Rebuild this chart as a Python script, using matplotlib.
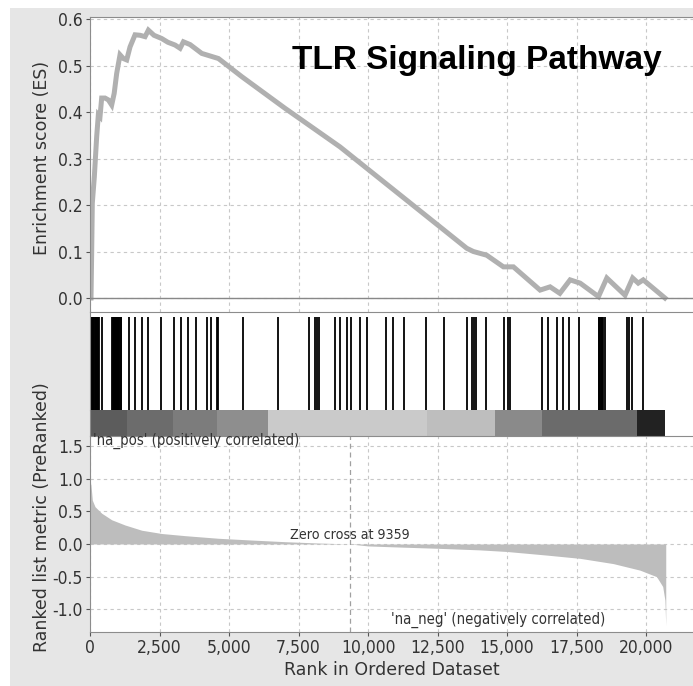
import matplotlib
matplotlib.use('Agg')
import matplotlib.pyplot as plt
from matplotlib.patches import Rectangle
from matplotlib import font_manager
from matplotlib.font_manager import FontProperties

# enrichment score curve
es_rank = [0, 36, 60, 83, 155, 240, 300, 360, 420, 540, 660, 780, 870, 960, 1080, 1200, 1320, 1440,
           1620, 1800, 1980, 2100, 2300, 2580, 2800, 3060, 3240, 3360, 3600, 4020, 4620, 5460, 7014,
           8993, 12590, 13550, 13790, 14270, 14870, 15230, 16190, 16550, 16900, 17270, 17630, 18290,
           18590, 19245, 19520, 19720, 19900, 20680]
es_val = [0.0, 0.0, 0.097, 0.204, 0.26, 0.347, 0.394, 0.39, 0.43, 0.43, 0.426, 0.415, 0.44, 0.483,
          0.523, 0.515, 0.512, 0.54, 0.566, 0.565, 0.562, 0.576, 0.565, 0.558, 0.55, 0.544, 0.537,
          0.551, 0.545, 0.526, 0.515, 0.476, 0.408, 0.325, 0.153, 0.107, 0.10, 0.092, 0.067, 0.067,
          0.017, 0.024, 0.01, 0.039, 0.032, 0.003, 0.043, 0.006, 0.043, 0.032, 0.039, 0.0]

# gene set hits
hits = [0, 25, 50, 75, 100, 125, 150, 175, 200, 225, 250, 275, 300, 320, 443,
        800, 825, 850, 875, 900, 925, 950, 975, 1000, 1025, 1050, 1075, 1100, 1115,
        1415, 1620, 1858, 2100, 2554, 3010, 3273, 3537, 3813, 4197, 4353, 4556, 4604, 5492,
        6750, 7890, 8094, 8153, 8225, 8813, 8993, 9233, 9376, 9712, 9976, 10647, 10887, 11306,
        12086, 12746, 13550, 13752, 13813, 13885, 14233, 14904, 15048, 15097, 16247, 16475, 16787,
        17026, 17230, 17601, 18300, 18325, 18350, 18375, 18400, 18425, 18442, 18537,
        19327, 19399, 19485, 19903]

# ranked list colour bar
bar_edges = [0, 1320, 3000, 4560, 6420, 12110, 14570, 16250, 19670, 20700]
bar_grays = ['#5c5c5c', '#6c6c6c', '#7c7c7c', '#8e8e8e', '#cacaca', '#bebebe', '#8a8a8a',
             '#6b6b6b', '#222222']

# ranked list metric
metric_rank = [0, 36, 83, 180, 420, 780, 1260, 1860, 2580, 3420, 4620, 5820, 7010, 8200, 9359,
               10000, 11000, 12500, 14000, 15000, 16430, 17630, 18820, 19780, 20380, 20600, 20680,
               20710]
metric_val = [0.95, 0.90, 0.67, 0.57, 0.47, 0.37, 0.29, 0.21, 0.16, 0.127, 0.087, 0.06, 0.035,
              0.015, 0.0, -0.03, -0.045, -0.066, -0.09, -0.115, -0.17, -0.22, -0.30, -0.40, -0.50,
              -0.65, -0.86, -1.25]
zero_cross = 9359

# look for a narrow font, else shrink DejaVu Sans
narrow_file = None
for f in font_manager.fontManager.ttflist:
    if ('Narrow' in f.name or 'Condensed' in f.name or f.stretch == 'condensed') \
            and f.weight in (400, 'normal', 'regular') and f.style == 'normal':
        narrow_file = f.fname
        break

def tfont(size):
    if narrow_file:
        return FontProperties(fname=narrow_file, size=size)
    return FontProperties(family='DejaVu Sans', size=size * 0.82)

W, H = 693, 686
fig = plt.figure(figsize=(W / 100, H / 100), dpi=100, facecolor='white')
fig.patches.append(Rectangle((10 / W, 0), 1, 1 - 8 / H, transform=fig.transFigure,
                             facecolor='#e6e6e6', edgecolor='none', zorder=-10))

def box(top, bottom):
    return [90 / W, 1 - bottom / H, 1 - 90 / W, (bottom - top) / H]

xmax = 21690
spine_c = '#8c8c8c'
grid_kw = dict(color='#c8c8c8', linestyle=(0, (3, 3)), linewidth=0.8)

ax1 = fig.add_axes(box(17, 312))
ax2 = fig.add_axes(box(312, 410))
ax3 = fig.add_axes(box(410, 436))
ax4 = fig.add_axes(box(436, 632))

for ax in (ax1, ax2, ax3, ax4):
    ax.set_xlim(0, xmax)
    ax.spines['right'].set_visible(False)
    for s in ax.spines.values():
        s.set_color(spine_c)
    ax.tick_params(colors='#555555', labelcolor='#333333', length=3, pad=2)

# ES panel
ax1.plot(es_rank, es_val, color='#b0b0b0', linewidth=3.6, solid_joinstyle='miter')
ax1.axhline(0, color='#888888', linewidth=1)
ax1.set_ylim(-0.0301, 0.6043)
ax1.set_yticks([0, 0.1, 0.2, 0.3, 0.4, 0.5, 0.6])
ax1.set_yticklabels(['0.0', '0.1', '0.2', '0.3', '0.4', '0.5', '0.6'], fontproperties=tfont(12.5))
ax1.set_xticks(range(0, 20001, 2500))
ax1.tick_params(axis='x', length=0, labelbottom=False)
ax1.grid(True, **grid_kw)
ax1.set_axisbelow(True)
ax1.spines['bottom'].set_visible(False)

# hits
ax2.vlines(hits, 0, 0.95, color='black', linewidth=1.3)
ax2.set_ylim(0, 1)
ax2.set_xticks([])
ax2.set_yticks([])
ax2.spines['bottom'].set_visible(False)

# colour bar
for i in range(len(bar_grays)):
    ax3.barh(0.5, bar_edges[i + 1] - bar_edges[i], left=bar_edges[i], height=1,
             color=bar_grays[i], linewidth=0)
ax3.set_ylim(0, 1)
ax3.set_xticks([])
ax3.set_yticks([])
ax3.spines['top'].set_visible(False)
ax3.spines['bottom'].set_visible(False)

# ranked list
ax4.fill_between(metric_rank, metric_val, 0, color='#bdbdbd', linewidth=0)
ax4.axvline(zero_cross, color='#a0a0a0', linestyle=(0, (4, 3)), linewidth=0.9)
ax4.set_ylim(-1.346, 1.651)
ax4.set_yticks([-1.0, -0.5, 0.0, 0.5, 1.0, 1.5])
ax4.set_yticklabels(['-1.0', '-0.5', '0.0', '0.5', '1.0', '1.5'], fontproperties=tfont(12.5))
ax4.set_xticks(range(0, 20001, 2500))
ax4.set_xticklabels(['{:,}'.format(v) for v in range(0, 20001, 2500)], fontproperties=tfont(12.5))
ax4.grid(True, **grid_kw)
ax4.set_axisbelow(True)
ax4.text(100, 1.57, "'na_pos' (positively correlated)", fontproperties=tfont(10.7),
         color='#333333', va='center', ha='left')
ax4.text(zero_cross, 0.035, 'Zero cross at 9359', fontproperties=tfont(10.2),
         color='#333333', va='bottom', ha='center')
ax4.text(14680, -1.16, "'na_neg' (negatively correlated)", fontproperties=tfont(10.7),
         color='#333333', va='center', ha='center')

ax4.set_xlabel('Rank in Ordered Dataset', fontsize=12.5, color='#333333', labelpad=3)
fig.text(42 / W, 1 - 158 / H, 'Enrichment score (ES)', rotation=90, fontsize=12.5,
         color='#333333', ha='center', va='center')
fig.text(42 / W, 1 - 517 / H, 'Ranked list metric (PreRanked)', rotation=90, fontsize=12.5,
         color='#333333', ha='center', va='center')

fig.text(477 / W, 1 - 69 / H, 'TLR Signaling Pathway', family=['Liberation Sans', 'DejaVu Sans'],
         fontweight='bold', fontsize=24, color='black', ha='center', va='baseline')

fig.savefig('out.png', dpi=100, facecolor=fig.get_facecolor())
